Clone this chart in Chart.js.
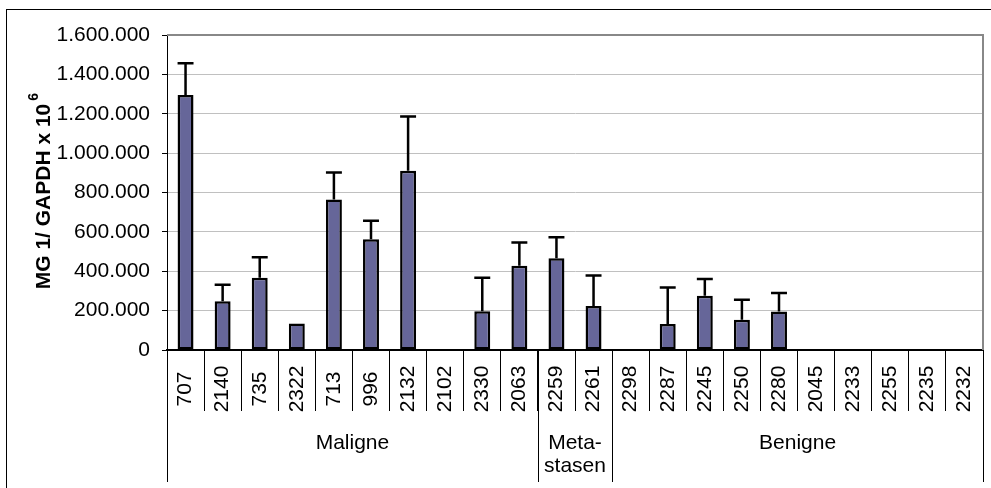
<!DOCTYPE html>
<html>
<head>
<meta charset="utf-8">
<script src="https://cdn.jsdelivr.net/npm/chart.js@4.4.0/dist/chart.umd.min.js"></script>
<style>
    html, body { margin: 0; padding: 0; background: #fff; }
    canvas { display: block; }
</style>
</head>
<body>
<canvas id="barCanvas" width="991" height="488"></canvas>
<script>
// samples (x categories)
const samples = ["707", "2140", "735", "2322", "713", "996", "2132", "2102", "2330", "2063",
                 "2259", "2261",
                 "2298", "2287", "2245", "2250", "2280", "2045", "2233", "2255", "2235", "2232"];

// mean values
const means = [1295000, 247000, 367000, 135000, 765000, 562000, 911000, 0, 197000, 428000,
               466000, 224000,
               0, 132000, 276000, 154000, 195000, 0, 0, 0, 0, 0];

// upper error (only + side drawn)
const errors = [161000, 84000, 104000, 0, 136000, 95000, 275000, 0, 170000, 118000,
                107000, 154000,
                0, 185000, 85000, 101000, 95000, 0, 0, 0, 0, 0];

const groupNames = ["Maligne", "Meta-\nstasen", "Benigne"];
const groupSizes = [10, 2, 10];

const yMin = 0;
const yMax = 1600000;
const yStep = 200000;

const yTitle = "MG 1/ GAPDH x 10";
const yTitleSup = "6";

const fontName = "'Liberation Sans', Arial, sans-serif";

function formatDe(value) {
    return String(value).replace(/\B(?=(\d{3})+(?!\d))/g, '.');
}

const decorPlugin = {
    id: 'decor',
    beforeDraw(chart) {
        const ctx = chart.ctx;
        ctx.save();
        ctx.fillStyle = '#fff';
        ctx.fillRect(0, 0, chart.width, chart.height);
        ctx.strokeStyle = '#000';
        ctx.lineWidth = 1;
        ctx.strokeRect(6.5, 9.5, chart.width + 20, chart.height + 20);
        ctx.restore();
    },
    afterDatasetsDraw(chart) {
        // error bars, upper side only
        const ctx = chart.ctx;
        const yScale = chart.scales.y;
        const meta = chart.getDatasetMeta(0);
        ctx.save();
        ctx.strokeStyle = '#000';
        ctx.lineWidth = 2.5;
        meta.data.forEach(function(bar, i) {
            if (!errors[i]) return;
            const top = yScale.getPixelForValue(means[i] + errors[i]);
            const half = bar.width / 2;
            ctx.beginPath();
            ctx.moveTo(bar.x, bar.y);
            ctx.lineTo(bar.x, top);
            ctx.moveTo(bar.x - half, top);
            ctx.lineTo(bar.x + half, top);
            ctx.stroke();
        });
        ctx.restore();
    },
    afterDraw(chart) {
        const ctx = chart.ctx;
        const area = chart.chartArea;
        const xScale = chart.scales.x;
        const catWidth = (xScale.right - xScale.left) / samples.length;

        ctx.save();

        // plot frame, top and right
        ctx.strokeStyle = '#888';
        ctx.lineWidth = 2;
        ctx.beginPath();
        ctx.moveTo(area.left, area.top);
        ctx.lineTo(area.right, area.top);
        ctx.lineTo(area.right, area.bottom);
        ctx.stroke();

        // category labels, rotated and centred in the tick band
        ctx.fillStyle = '#000';
        ctx.font = '21px ' + fontName;
        ctx.textAlign = 'center';
        ctx.textBaseline = 'middle';
        samples.forEach(function(label, i) {
            ctx.save();
            ctx.translate(xScale.getPixelForValue(i), area.bottom + 39);
            ctx.rotate(-Math.PI / 2);
            ctx.fillText(label, 0, 0);
            ctx.restore();
        });

        // group separators and group labels
        ctx.strokeStyle = '#000';
        ctx.lineWidth = 1;
        let start = 0;
        const bounds = [0];
        groupSizes.forEach(function(size) {
            start += size;
            bounds.push(start);
        });
        bounds.forEach(function(b) {
            const x = Math.round(xScale.left + b * catWidth) + 0.5;
            ctx.beginPath();
            ctx.moveTo(x, area.bottom);
            ctx.lineTo(x, area.bottom + 132);
            ctx.stroke();
        });
        ctx.textBaseline = 'alphabetic';
        groupNames.forEach(function(name, g) {
            const cx = xScale.left + (bounds[g] + bounds[g + 1]) / 2 * catWidth;
            name.split('\n').forEach(function(line, k) {
                ctx.fillText(line, cx, area.bottom + 99 + k * 23);
            });
        });

        // y axis title with superscript
        ctx.font = 'bold 21px ' + fontName;
        const w = ctx.measureText(yTitle).width;
        ctx.translate(44, (area.top + area.bottom) / 2 + 4);
        ctx.rotate(-Math.PI / 2);
        ctx.textAlign = 'center';
        ctx.textBaseline = 'middle';
        ctx.fillText(yTitle, 0, 0);
        ctx.font = 'bold 14px ' + fontName;
        ctx.textAlign = 'left';
        ctx.fillText(yTitleSup, w / 2 + 3, -10);

        ctx.restore();
    }
};

const barCanvas = document.getElementById("barCanvas");

const barChart = new Chart(barCanvas, {
    type: "bar",
    data: {
        labels: samples,
        datasets: [{
            data: means,
            backgroundColor: "#666699",
            borderColor: "#000",
            borderWidth: 2.5,
            borderSkipped: false,
            barPercentage: 0.43,
            categoryPercentage: 1
        }]
    },
    options: {
        responsive: false,
        animation: false,
        devicePixelRatio: 1,
        layout: { padding: { top: 35, right: 8, left: 0, bottom: 0 } },
        plugins: {
            legend: { display: false },
            tooltip: { enabled: false }
        },
        scales: {
            x: {
                afterFit: function(scale) { scale.height = 138; },
                grid: {
                    offset: true,
                    drawOnChartArea: false,
                    tickLength: 61,
                    color: "#000",
                    tickColor: "#000",
                    lineWidth: 1
                },
                border: { color: "#000", width: 2 },
                ticks: { display: false, autoSkip: false }
            },
            y: {
                min: yMin,
                max: yMax,
                afterFit: function(scale) { scale.width = 167; },
                ticks: {
                    stepSize: yStep,
                    padding: 12,
                    color: "#000",
                    font: { family: fontName, size: 21 },
                    callback: function(value) {
                        return formatDe(value);
                    }
                },
                grid: {
                    color: "#c0c0c0",
                    tickColor: "#000",
                    tickLength: 5,
                    lineWidth: 1
                },
                border: { color: "#000", width: 1 }
            }
        }
    },
    plugins: [decorPlugin]
});
</script>
</body>
</html>
